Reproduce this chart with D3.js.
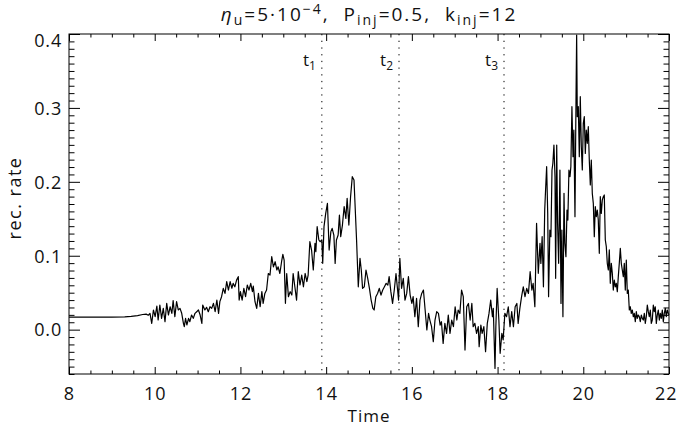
<!DOCTYPE html>
<html>
<head>
<meta charset="utf-8">
<script src="https://cdn.jsdelivr.net/npm/d3@7"></script>
<style>
  body { margin: 0; background: #fff; }
  svg text { font-family: "Open Sans", "DejaVu Sans", sans-serif; font-weight: 400; fill: #111; }
</style>
</head>
<body>
<svg id="chart" width="677" height="429"></svg>
<script>
// Reconnection rate time series
const times = [
  8.00, 8.50, 9.00, 9.30, 9.45, 9.60, 9.72, 9.80, 9.85,
  9.89, 9.93, 9.97, 10.01, 10.05, 10.08, 10.12, 10.16, 10.20, 10.24, 10.28, 10.32, 10.36, 10.40,
  10.43, 10.47, 10.51, 10.55, 10.59, 10.63, 10.67, 10.69, 10.72, 10.75, 10.79, 10.82, 10.86, 10.90,
  10.94, 10.98, 11.02, 11.06, 11.10, 11.12, 11.17, 11.21, 11.25, 11.29, 11.33, 11.37, 11.41, 11.45,
  11.49, 11.52, 11.56, 11.60, 11.64, 11.68, 11.72,
  11.76, 11.80, 11.83, 11.87, 11.91, 11.95, 11.97, 12.00, 12.04, 12.08, 12.12, 12.16, 12.20, 12.24,
  12.28, 12.30, 12.34, 12.38, 12.42, 12.46, 12.50, 12.53, 12.57, 12.61, 12.65, 12.69, 12.73, 12.77,
  12.81, 12.85, 12.88, 12.92, 12.96, 12.99, 13.02, 13.05, 13.08, 13.12, 13.16, 13.20, 13.23, 13.27,
  13.31, 13.35, 13.39, 13.43, 13.47, 13.51, 13.55, 13.58, 13.62, 13.66, 13.70, 13.74, 13.76, 13.79, 13.83,
  13.86, 13.90, 13.92, 13.95, 13.99, 14.03, 14.07, 14.11, 14.14, 14.18, 14.21, 14.24, 14.28, 14.31,
  14.34, 14.38, 14.42, 14.46, 14.49, 14.53, 14.57, 14.61, 14.65, 14.67, 14.71, 14.75, 14.79, 14.82,
  14.85, 14.89, 14.93, 14.97, 15.01, 15.05, 15.09, 15.12, 15.16, 15.20, 15.24, 15.28, 15.32, 15.36,
  15.40, 15.44, 15.47, 15.51, 15.55, 15.59, 15.63, 15.66, 15.69, 15.72, 15.76, 15.80, 15.84, 15.88,
  15.92, 15.96, 16.00, 16.03, 16.07, 16.11, 16.15, 16.19, 16.23, 16.27, 16.31, 16.35, 16.39, 16.42,
  16.46, 16.50, 16.54, 16.58, 16.62,
  16.66, 16.69, 16.73, 16.77, 16.81, 16.85, 16.89, 16.93, 16.97, 17.01, 17.05, 17.08, 17.12, 17.16,
  17.20, 17.24, 17.28, 17.32, 17.36, 17.40, 17.43, 17.47, 17.51, 17.55, 17.57, 17.61, 17.64, 17.68,
  17.72, 17.76, 17.80, 17.84, 17.88, 17.90, 17.94, 17.96, 17.99, 18.03, 18.06, 18.10, 18.13, 18.17,
  18.21, 18.25, 18.29, 18.33, 18.37, 18.41, 18.45, 18.48, 18.52, 18.56, 18.60, 18.64, 18.68, 18.72,
  18.76, 18.80, 18.83, 18.87, 18.91, 18.95,
  18.99, 19.01, 19.04, 19.07, 19.10, 19.12, 19.145, 19.17, 19.19, 19.22, 19.245, 19.27, 19.29, 19.315,
  19.34, 19.355, 19.38, 19.40, 19.425, 19.455, 19.48, 19.50, 19.525, 19.55, 19.57, 19.595, 19.62, 19.64,
  19.665, 19.69, 19.71, 19.735, 19.76, 19.78, 19.806, 19.83, 19.845, 19.86, 19.884, 19.907, 19.93, 19.954,
  19.977, 20.00, 20.024, 20.047, 20.07, 20.094, 20.117, 20.14, 20.164, 20.187, 20.21, 20.234, 20.257, 20.28,
  20.304, 20.327, 20.35, 20.374, 20.397, 20.42, 20.444, 20.467, 20.49, 20.514, 20.537, 20.56, 20.584, 20.607,
  20.63, 20.654, 20.677, 20.70, 20.724, 20.747, 20.77, 20.794, 20.817, 20.84, 20.864, 20.887, 20.91, 20.934,
  20.957, 20.98, 21.004, 21.027, 21.05, 21.074, 21.097, 21.12, 21.144, 21.167, 21.19, 21.214, 21.237, 21.26,
  21.284, 21.307, 21.33, 21.354, 21.377, 21.40, 21.424, 21.447, 21.47, 21.494, 21.517, 21.54, 21.564, 21.587,
  21.61, 21.634, 21.657, 21.68, 21.704, 21.727, 21.75, 21.774, 21.797, 21.82, 21.844, 21.867, 21.89, 21.914,
  21.937, 21.96, 21.984, 22.00
];
const rates = [
  0.017, 0.017, 0.017, 0.0172, 0.018, 0.019, 0.0205, 0.021, 0.0195,
  0.022, 0.0085, 0.0266, 0.0176, 0.032, 0.0131, 0.0333, 0.0153, 0.0288, 0.0108, 0.0356, 0.0198, 0.031, 0.0221,
  0.0392, 0.0176, 0.0379, 0.0266, 0.0288, 0.0221, 0.0085, 0.004, 0.0153, 0.0063, 0.0153, 0.0108, 0.0198, 0.0153,
  0.0221, 0.0243, 0.0266, 0.0198, 0.0085, 0.0333, 0.0266, 0.0302, 0.0243, 0.031, 0.0288, 0.0356, 0.0243, 0.0401,
  0.0221, 0.0379, 0.0446, 0.0559, 0.0491, 0.0649, 0.0536,
  0.065, 0.056, 0.0626, 0.058, 0.067, 0.0717, 0.040, 0.0514, 0.040, 0.056, 0.0446, 0.0604, 0.0536, 0.0626,
  0.0514, 0.059, 0.0378, 0.0288, 0.049, 0.031, 0.0514, 0.0356, 0.049, 0.0536, 0.076, 0.0739, 0.0987, 0.085,
  0.0919, 0.0807, 0.085, 0.076, 0.0919, 0.1019, 0.0942, 0.0356, 0.076, 0.0446, 0.0514, 0.0468, 0.076, 0.058,
  0.040, 0.0784, 0.0604, 0.0739, 0.058, 0.076, 0.0649, 0.0739, 0.119, 0.1077, 0.0807, 0.1167, 0.1055, 0.1393, 0.1213,
  0.119, 0.1213, 0.0897, 0.1393, 0.1573, 0.1709, 0.1077, 0.1326, 0.137, 0.128, 0.0897, 0.1213, 0.128, 0.155,
  0.1258, 0.1415, 0.1664, 0.1506, 0.1776, 0.1415, 0.1799, 0.207, 0.2025, 0.1754, 0.1213, 0.058, 0.0965, 0.0807,
  0.0559, 0.058, 0.0807, 0.0694, 0.0559, 0.040, 0.0288, 0.0266, 0.0446, 0.049, 0.0559, 0.0468, 0.0536, 0.058,
  0.0626, 0.0604, 0.0717, 0.0514, 0.0356, 0.0536, 0.076, 0.058, 0.040, 0.0965, 0.0559, 0.0694, 0.040, 0.049,
  0.0717, 0.0468, 0.0356, 0.0446, 0.0175, 0.0423, 0.004, 0.040, 0.049, 0.0536, 0.0266, -0.0005, 0.022, 0.013,
  0.004, -0.0163, 0.013, 0.0243, 0.022,
  0.0062, 0.0107, -0.0186, 0.0085, -0.005, 0.0197, -0.005, 0.013, 0.004, 0.031, 0.013, 0.0265, 0.022, 0.0536,
  0.0446, -0.0276, 0.031, 0.0355, 0.013, 0.0355, 0.004, 0.0085, -0.005, 0.004, -0.023, 0.0062, -0.005, 0.004,
  -0.0299, 0.0085, 0.022, 0.040, 0.0175, 0.0288, -0.0524, 0.004, 0.0558, 0.013, -0.032, -0.005, -0.014, 0.022,
  0.0175, 0.031, 0.004, 0.0243, 0.004, 0.031, 0.0355, 0.0085, 0.0288, 0.0446, 0.058, 0.0446, 0.0558, 0.049,
  0.0784, 0.0536, 0.0626, 0.031, 0.1438, 0.0762,
  0.1168, 0.0897, 0.1258, 0.058, 0.1619, 0.1889, 0.2205, 0.1573, 0.0446, 0.1348, 0.1258, 0.216, 0.225, 0.2498,
  0.207, 0.0694, 0.2498, 0.1438, 0.0897, 0.216, 0.0355, 0.1348, 0.0175, 0.1844, 0.1168, 0.0987, 0.1619, 0.1483,
  0.216, 0.207, 0.2205, 0.3017, 0.234, 0.2701, 0.1528, 0.3107, 0.3986, 0.2881, 0.3017, 0.234, 0.3152, 0.2475,
  0.216, 0.2791, 0.2881, 0.2385, 0.2701, 0.2521, 0.2746, 0.2295, 0.1957, 0.2295, 0.1844, 0.1709, 0.1258, 0.1664,
  0.1528, 0.1619, 0.1483, 0.1033, 0.1799, 0.1573, 0.1754, 0.1799, 0.1822, 0.1213, 0.1123, 0.0897, 0.0807, 0.1078,
  0.0627, 0.0897, 0.0762, 0.0536, 0.0671, 0.058, 0.0627, 0.0514, 0.0717, 0.0897, 0.110, 0.0897, 0.0807, 0.0717,
  0.0897, 0.0536, 0.0942, 0.0491, 0.0536, 0.0266, 0.031, 0.022, 0.0266, 0.0175, 0.022, 0.0108, 0.0243, 0.0153,
  0.0198, 0.0175, 0.0108, 0.0198, 0.0153, 0.013, 0.022, 0.0085, 0.0175, 0.0333, 0.0243, 0.0175, 0.0266, 0.0085,
  0.013, 0.0333, 0.0243, 0.031, 0.0085, 0.0198, 0.0266, 0.013, 0.022, 0.0153, 0.0266, 0.0108, 0.022, 0.0288,
  0.0175, 0.0266, 0.022, 0.020
];

// Marker times t1, t2, t3
const markerTimes = [13.9, 15.7, 18.15];
const markerSubs = ["1", "2", "3"];

// Axis ticks
const xMajorTicks = [8, 10, 12, 14, 16, 18, 20, 22];
const yMajorTicks = [0.0, 0.1, 0.2, 0.3, 0.4];
const yTickLabels = ["0.0", "0.1", "0.2", "0.3", "0.4"];

const svg = d3.select("#chart");
const plotL = 69, plotR = 669, plotT = 34, plotB = 374;

const x = d3.scaleLinear().domain([8, 22]).range([plotL, plotR]);
const y = d3.scaleLinear().domain([-0.06, 0.4]).range([plotB, plotT]);

const xMinorTicks = d3.range(8, 22.001, 0.5).filter(v => Math.abs(v / 2 - Math.round(v / 2)) > 1e-6);
const yMinorTicks = d3.range(-6, 41).map(v => v / 100).filter(v => Math.abs(v * 10 - Math.round(v * 10)) > 1e-6);

function styleAxis(g) {
  g.select(".domain").remove();
  g.selectAll(".tick line").attr("stroke", "#000").attr("stroke-width", 1);
}

// Bottom axis: major with labels, minor without
svg.append("g").attr("transform", `translate(0,${plotB})`)
  .call(d3.axisBottom(x).tickValues(xMajorTicks).tickSize(-7).tickPadding(13).tickFormat(d3.format("d")))
  .call(styleAxis)
  .call(g => g.selectAll("text").attr("font-size", 18).attr("font-family", null)
    .attr("letter-spacing", 1)
    // keep the last label inside the page edge
    .attr("text-anchor", d => d === 22 ? "end" : "middle")
    .attr("x", d => d === 22 ? 8 : 0));
svg.append("g").attr("transform", `translate(0,${plotB})`)
  .call(d3.axisBottom(x).tickValues(xMinorTicks).tickSize(-3.5).tickFormat(""))
  .call(styleAxis);

// Top axis
svg.append("g").attr("transform", `translate(0,${plotT})`)
  .call(d3.axisTop(x).tickValues(xMajorTicks).tickSize(-7).tickFormat(""))
  .call(styleAxis);
svg.append("g").attr("transform", `translate(0,${plotT})`)
  .call(d3.axisTop(x).tickValues(xMinorTicks).tickSize(-3.5).tickFormat(""))
  .call(styleAxis);

// Left axis
svg.append("g").attr("transform", `translate(${plotL},0)`)
  .call(d3.axisLeft(y).tickValues(yMajorTicks).tickSize(-11).tickPadding(7)
    .tickFormat((d, i) => yTickLabels[i]))
  .call(styleAxis)
  .call(g => g.selectAll("text").attr("font-size", 18).attr("font-family", null)
    .attr("letter-spacing", 0.8)
    .attr("dy", d => d === 0.4 ? "0.7em" : "0.35em"));
svg.append("g").attr("transform", `translate(${plotL},0)`)
  .call(d3.axisLeft(y).tickValues(yMinorTicks).tickSize(-5.5).tickFormat(""))
  .call(styleAxis);

// Right axis
svg.append("g").attr("transform", `translate(${plotR},0)`)
  .call(d3.axisRight(y).tickValues(yMajorTicks).tickSize(-11).tickFormat(""))
  .call(styleAxis);
svg.append("g").attr("transform", `translate(${plotR},0)`)
  .call(d3.axisRight(y).tickValues(yMinorTicks).tickSize(-5.5).tickFormat(""))
  .call(styleAxis);

// Plot frame
svg.append("rect")
  .attr("x", plotL).attr("y", plotT)
  .attr("width", plotR - plotL).attr("height", plotB - plotT)
  .attr("fill", "none").attr("stroke", "#000").attr("stroke-width", 1);

// Dotted marker lines
svg.selectAll("line.marker").data(markerTimes).join("line")
  .attr("class", "marker")
  .attr("x1", d => x(d)).attr("x2", d => x(d))
  .attr("y1", plotT).attr("y2", plotB)
  .attr("stroke", "#000").attr("stroke-width", 1)
  .attr("stroke-dasharray", "1.3,5.4");

// Marker labels
const ml = svg.selectAll("text.mlabel").data(markerTimes).join("text")
  .attr("class", "mlabel")
  .attr("x", d => x(d) - 6).attr("y", 66)
  .attr("text-anchor", "end")
  .attr("font-size", 17);
ml.append("tspan").text("t");
ml.append("tspan").attr("font-size", 12).attr("baseline-shift", "-4").text((d, i) => markerSubs[i]);

// Data line
const series = times.map((t, i) => [t, rates[i]]);
svg.append("path")
  .datum(series)
  .attr("fill", "none")
  .attr("stroke", "#000")
  .attr("stroke-width", 1.2)
  .attr("stroke-linejoin", "round")
  .attr("d", d3.line().x(d => x(d[0])).y(d => y(d[1])));

// Title
const title = svg.append("text")
  .attr("x", (plotL + plotR) / 2).attr("y", 21)
  .attr("text-anchor", "middle")
  .attr("font-size", 19)
  .style("letter-spacing", "2px")
  .style("white-space", "pre");
title.append("tspan").attr("font-style", "italic").text("η");
title.append("tspan").attr("font-size", 14).attr("baseline-shift", "-4").text("u");
title.append("tspan").text("=5·10");
title.append("tspan").attr("font-size", 14).attr("baseline-shift", "7").text("−4");
title.append("tspan").text(",  P");
title.append("tspan").attr("font-size", 14).attr("baseline-shift", "-4").text("inj");
title.append("tspan").text("=0.5,  k");
title.append("tspan").attr("font-size", 14).attr("baseline-shift", "-4").text("inj");
title.append("tspan").text("=12");

// Axis titles
svg.append("text")
  .attr("x", (plotL + plotR) / 2).attr("y", 422)
  .attr("text-anchor", "middle").attr("font-size", 17)
  .attr("letter-spacing", 1)
  .text("Time");
svg.append("text")
  .attr("transform", "translate(21,198) rotate(-90)")
  .attr("text-anchor", "middle").attr("font-size", 18)
  .attr("letter-spacing", 1.5)
  .text("rec. rate");
</script>
</body>
</html>
